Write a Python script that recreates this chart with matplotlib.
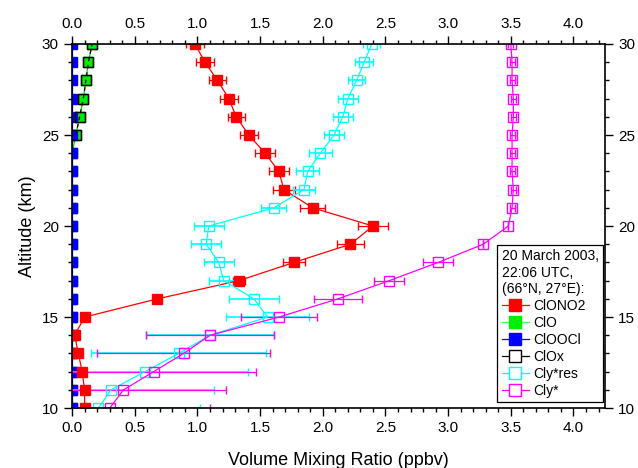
import matplotlib
matplotlib.use('Agg')
import matplotlib.pyplot as plt
from matplotlib.lines import Line2D
from matplotlib.ticker import MultipleLocator, FormatStrFormatter

plt.rcParams['font.family'] = ['Liberation Sans', 'DejaVu Sans']

altitude = list(range(10, 31))

# ClONO2 (10 .. 30 km)
clono2 = [0.10, 0.10, 0.08, 0.05, 0.02, 0.10, 0.68, 1.33, 1.77, 2.22, 2.40,
          1.92, 1.69, 1.65, 1.54, 1.41, 1.31, 1.25, 1.16, 1.06, 0.98]
clono2_err = [0.0, 0.0, 0.0, 0.0, 0.0, 0.0, 0.02, 0.05, 0.09, 0.11, 0.12,
              0.10, 0.09, 0.08, 0.08, 0.07, 0.07, 0.07, 0.07, 0.07, 0.07]

clo = [0.0, 0.0, 0.0, 0.0, 0.0, 0.0, 0.0, 0.0, 0.0, 0.0, 0.0,
       0.0, 0.0, 0.0, 0.0, 0.03, 0.06, 0.09, 0.11, 0.13, 0.16]

clooocl = [0.0] * 21

clox_alt = [25, 26, 27, 28, 29, 30]
clox = [0.03, 0.06, 0.09, 0.11, 0.13, 0.16]

clyres = [0.21, 0.31, 0.58, 0.85, 1.10, 1.56, 1.45, 1.21, 1.17, 1.07, 1.09,
          1.61, 1.85, 1.88, 1.98, 2.09, 2.16, 2.20, 2.27, 2.33, 2.39]
clyres_err = [0.81, 0.82, 0.82, 0.70, 0.51, 0.33, 0.20, 0.12, 0.12, 0.12, 0.12,
              0.10, 0.09, 0.09, 0.09, 0.08, 0.08, 0.08, 0.07, 0.07, 0.07]

cly = [0.30, 0.41, 0.65, 0.89, 1.10, 1.65, 2.12, 2.53, 2.92, 3.28, 3.48,
       3.51, 3.52, 3.51, 3.51, 3.51, 3.52, 3.52, 3.51, 3.51, 3.50]
cly_err = [0.80, 0.82, 0.82, 0.69, 0.51, 0.30, 0.19, 0.12, 0.12, 0.0, 0.0,
           0.02, 0.02, 0.02, 0.02, 0.02, 0.02, 0.02, 0.02, 0.02, 0.02]

legend_title = '20 March 2003,\n22:06 UTC,\n(66\u00b0N, 27\u00b0E):'

fig = plt.figure(figsize=(6.38, 4.68), dpi=100)
ax = fig.add_axes([0.113, 0.128, 0.835, 0.778])

ax.errorbar(clono2, altitude, xerr=clono2_err, color='red', marker='s', ms=7,
            mfc='red', mec='red', lw=0.9, elinewidth=0.9, capsize=3)
ax.plot(clo, altitude, color='#00dd00', marker='s', ms=7, mfc='#00ee00',
        mec='#006600', lw=0.9)
ax.plot(clooocl, altitude, color='blue', marker='s', ms=7, mfc='blue',
        mec='blue', lw=0.9)
ax.plot(clox, clox_alt, color='black', marker='s', ms=7, mfc='none',
        mec='black', lw=0.9, ls=(0, (3, 3)))
ax.errorbar(clyres, altitude, xerr=clyres_err, color='cyan', marker='s', ms=7,
            mfc='none', mec='cyan', lw=0.9, elinewidth=1.2, capsize=3)
ax.errorbar(cly, altitude, xerr=cly_err, color='magenta', marker='s', ms=7,
            mfc='none', mec='magenta', lw=0.9, elinewidth=0.9, capsize=3)

# legend handles, in the order of the original
handles = [
    Line2D([], [], color='red', marker='s', ms=8, mfc='red', mec='red', lw=0.9),
    Line2D([], [], color='#44ff44', marker='s', ms=8, mfc='#00ee00', mec='#00ee00', lw=0.9),
    Line2D([], [], color='blue', marker='s', ms=8, mfc='blue', mec='blue', lw=0.9),
    Line2D([], [], color='black', marker='s', ms=8, mfc='white', mec='black', lw=0.9),
    Line2D([], [], color='cyan', marker='s', ms=8, mfc='white', mec='cyan', lw=0.9),
    Line2D([], [], color='magenta', marker='s', ms=8, mfc='white', mec='magenta', lw=0.9),
]
labels = ['ClONO2', 'ClO', 'ClOOCl', 'ClOx', 'Cly*res', 'Cly*']

ax.set_xlim(0, 4.25)
ax.set_ylim(10, 30)
ax.xaxis.set_major_locator(MultipleLocator(0.5))
ax.xaxis.set_minor_locator(MultipleLocator(0.1))
ax.yaxis.set_major_locator(MultipleLocator(5))
ax.yaxis.set_minor_locator(MultipleLocator(1))
ax.xaxis.set_major_formatter(FormatStrFormatter('%.1f'))

ax.tick_params(which='both', direction='out', top=True, right=True,
               labeltop=True, labelright=True, labelsize=11, width=1)
ax.tick_params(which='major', length=6)
ax.tick_params(which='minor', length=3)
for s in ax.spines.values():
    s.set_linewidth(1.2)

ax.set_xlabel('Volume Mixing Ratio (ppbv)', fontsize=13, labelpad=12)
ax.set_ylabel('Altitude (km)', fontsize=13)

leg = ax.legend(handles, labels, loc='lower right', title=legend_title,
                fontsize=10, title_fontsize=10, fancybox=False,
                edgecolor='black', framealpha=1, handlelength=2.0,
                handletextpad=0.3, borderpad=0.3, labelspacing=0.22,
                borderaxespad=0, bbox_to_anchor=(0.996, 0.016))
leg._legend_box.align = 'left'
leg.get_frame().set_linewidth(0.9)

fig.savefig('out.png', dpi=100)
